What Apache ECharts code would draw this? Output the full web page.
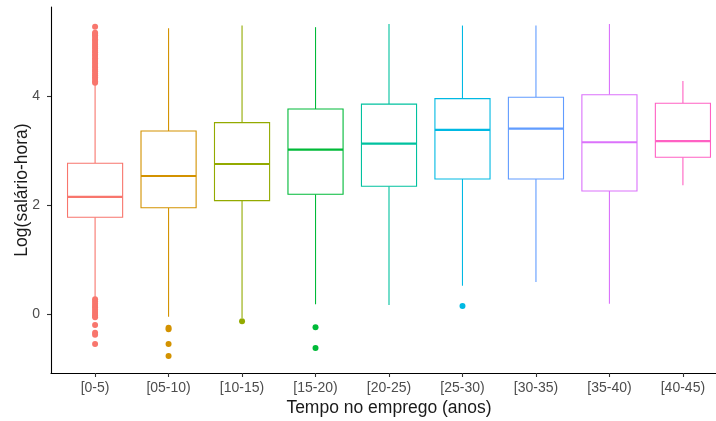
<!DOCTYPE html>
<html>
<head>
<meta charset="utf-8">
<title>Log(salário-hora) por tempo no emprego</title>
<script src="https://cdn.jsdelivr.net/npm/echarts@6/dist/echarts.min.js"></script>
<style>
  html, body { margin: 0; padding: 0; background: #ffffff; }
  #chart { width: 716px; height: 421px; }
</style>
</head>
<body>
<div id="chart"></div>
<script>
// Faixas de tempo no emprego (anos)
const categories = ['[0-5)', '[05-10)', '[10-15)', '[15-20)', '[20-25)', '[25-30)', '[30-35)', '[35-40)', '[40-45)'];

// Estatísticas dos boxplots de log(salário-hora)
const whiskerLow  = [0.30, -0.05, -0.07, 0.18, 0.165, 0.52, 0.59, 0.19, 2.36];
const quartile1   = [1.775, 1.95, 2.08, 2.196, 2.343, 2.477, 2.477, 2.257, 2.875];
const medians     = [2.15, 2.532, 2.752, 3.015, 3.125, 3.376, 3.40, 3.15, 3.17];
const quartile3   = [2.765, 3.358, 3.51, 3.76, 3.85, 3.95, 3.976, 4.02, 3.866];
const whiskerHigh = [4.20, 5.24, 5.29, 5.26, 5.32, 5.29, 5.29, 5.32, 4.275];

// Valores atípicos de cada faixa
const outliers0_5 = [
  4.24, 4.27, 4.31, 4.34, 4.38, 4.41, 4.45, 4.48, 4.52, 4.55, 4.59, 4.62,
  4.66, 4.69, 4.73, 4.76, 4.80, 4.83, 4.87, 4.90, 4.94, 4.97, 5.01, 5.04,
  5.08, 5.11, 5.14, 5.16, 5.27,
  0.27, 0.23, 0.19, 0.15, 0.12, 0.08, 0.04, 0.00, -0.03, -0.06, -0.20, -0.34, -0.38, -0.55
];
const outliers5_10  = [-0.25, -0.28, -0.55, -0.77];
const outliers10_15 = [-0.13];
const outliers15_20 = [-0.24, -0.62];
const outliers25_30 = [0.15];
const outlierGroups = [outliers0_5, outliers5_10, outliers10_15, outliers15_20, [], outliers25_30, [], [], []];

// Paleta de matizes (uma cor por faixa)
const palette = ['#F8766D', '#D39200', '#93AA00', '#00BA38', '#00C19F', '#00B9E3', '#619CFF', '#DB72FB', '#FF61C3'];

const positions = categories.map((_, i) => i + 1);
const boxData = positions.map((x, i) => [x, whiskerLow[i], quartile1[i], medians[i], quartile3[i], whiskerHigh[i]]);
const outlierData = [];
outlierGroups.forEach((vals, i) => vals.forEach(v => outlierData.push([i + 1, v])));

const halfBox = 0.375;

function renderBox(params, api) {
  const x = api.value(0);
  const lo = api.value(1), q1 = api.value(2), med = api.value(3), q3 = api.value(4), hi = api.value(5);
  const color = palette[params.dataIndex];
  const pLo = api.coord([x, lo]);
  const pQ1 = api.coord([x, q1]);
  const pQ3 = api.coord([x, q3]);
  const pHi = api.coord([x, hi]);
  const left = api.coord([x - halfBox, q3]);
  const right = api.coord([x + halfBox, q1]);
  const medL = api.coord([x - halfBox, med]);
  const medR = api.coord([x + halfBox, med]);
  const thin = { stroke: color, lineWidth: 1.1, fill: null };
  return {
    type: 'group',
    children: [
      { type: 'line', shape: { x1: pQ3[0], y1: pQ3[1], x2: pHi[0], y2: pHi[1] }, style: thin },
      { type: 'line', shape: { x1: pQ1[0], y1: pQ1[1], x2: pLo[0], y2: pLo[1] }, style: thin },
      { type: 'rect', shape: { x: left[0], y: left[1], width: right[0] - left[0], height: right[1] - left[1] },
        style: { stroke: color, lineWidth: 1.1, fill: '#ffffff' } },
      { type: 'line', shape: { x1: medL[0], y1: medL[1], x2: medR[0], y2: medR[1] },
        style: { stroke: color, lineWidth: 2.2 } }
    ]
  };
}

const chart = echarts.init(document.getElementById('chart'), null, { renderer: 'canvas' });
chart.setOption({
  animation: false,
  backgroundColor: '#ffffff',
  textStyle: { fontFamily: 'Liberation Sans, Arial, sans-serif' },
  grid: { left: 51, right: -11, top: 7, bottom: 48, containLabel: false, outerBoundsMode: 'none' },
  xAxis: {
    type: 'value',
    min: 0.4,
    max: 9.6,
    name: 'Tempo no emprego (anos)',
    nameLocation: 'middle',
    nameGap: 26,
    nameMoveOverlap: false,
    nameTextStyle: { fontSize: 17.5, color: '#1a1a1a', fontFamily: 'Liberation Sans' },
    splitLine: { show: false },
    axisLine: { show: true, onZero: false, lineStyle: { color: '#000000', width: 1.1 } },
    axisTick: { show: true, length: 4, customValues: positions, lineStyle: { color: '#333333', width: 1.1 } },
    axisLabel: {
      customValues: positions,
      formatter: v => categories[Math.round(v) - 1] || '',
      color: '#4d4d4d',
      fontSize: 14,
      margin: 8,
      fontFamily: 'Liberation Sans'
    }
  },
  yAxis: {
    type: 'value',
    min: -1.08,
    max: 5.63,
    name: 'Log(salário-hora)',
    nameLocation: 'middle',
    nameGap: 20,
    nameRotate: 90,
    nameMoveOverlap: false,
    nameTextStyle: { fontSize: 17.5, color: '#1a1a1a', fontFamily: 'Liberation Sans' },
    splitLine: { show: false },
    axisLine: { show: true, onZero: false, lineStyle: { color: '#000000', width: 1.1 } },
    axisTick: { show: true, length: 4, customValues: [0, 2, 4], lineStyle: { color: '#333333', width: 1.1 } },
    axisLabel: {
      customValues: [0, 2, 4],
      color: '#4d4d4d',
      fontSize: 14,
      margin: 11,
      fontFamily: 'Liberation Sans'
    }
  },
  series: [
    {
      type: 'custom',
      renderItem: renderBox,
      data: boxData,
      encode: { x: 0, y: [1, 2, 3, 4, 5] },
      clip: false
    },
    {
      type: 'scatter',
      data: outlierData,
      symbol: 'circle',
      symbolSize: 6,
      itemStyle: { color: p => palette[p.value[0] - 1], opacity: 1 },
      z: 3
    }
  ]
});
</script>
</body>
</html>
